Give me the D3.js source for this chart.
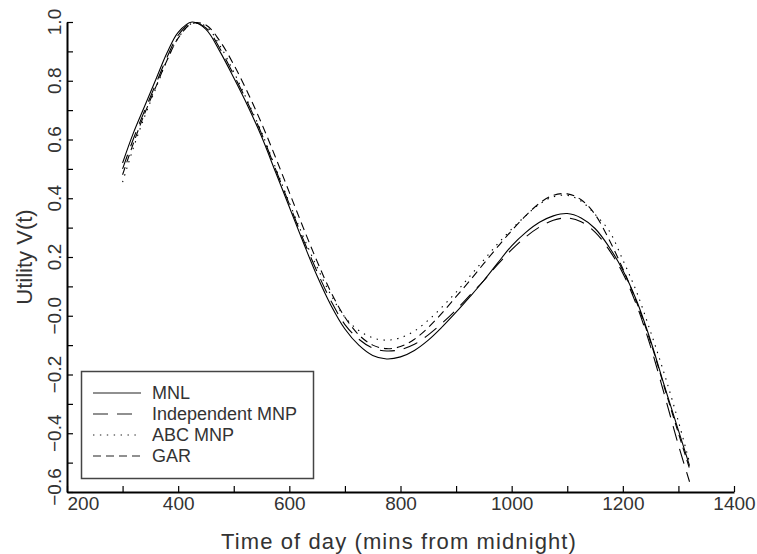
<!DOCTYPE html>
<html>
<head>
<meta charset="utf-8">
<title>Utility V(t)</title>
<script src="https://cdn.jsdelivr.net/npm/d3@7"></script>
<style>
  body { margin: 0; background: #fff; }
  text { font-family: "Liberation Sans", Arial, sans-serif; fill: #333; }
  .axis path, .axis line { stroke: #000; }
  .axis path { stroke-width: 2; }
  .axis line { stroke-width: 1.2; }
</style>
</head>
<body>
<script>
var width = 757, height = 554;

// minutes from midnight
var times = [300, 320, 340, 360, 380, 400, 425, 450, 475, 500, 525, 550, 575, 600,
             625, 650, 675, 700, 725, 750, 775, 800, 825, 850, 875, 900, 925, 950,
             975, 1000, 1025, 1050, 1075, 1100, 1125, 1150, 1175, 1200, 1225, 1250,
             1275, 1300, 1320];

var mnl = [0.52, 0.625, 0.715, 0.805, 0.895, 0.965, 1.0, 0.975, 0.90, 0.81, 0.715, 0.61, 0.49, 0.37,
           0.25, 0.135, 0.035, -0.045, -0.10, -0.135, -0.147, -0.14, -0.118, -0.083, -0.038, 0.012, 0.065, 0.12,
           0.18, 0.238, 0.283, 0.318, 0.34, 0.348, 0.333, 0.297, 0.235, 0.155, 0.05, -0.085,
           -0.24, -0.39, -0.51];

var indepMnp = [0.50, 0.605, 0.70, 0.79, 0.88, 0.955, 0.998, 0.98, 0.91, 0.82, 0.725, 0.62, 0.50, 0.38,
                0.26, 0.15, 0.05, -0.03, -0.08, -0.11, -0.12, -0.115, -0.097, -0.065, -0.025, 0.02, 0.07, 0.12,
                0.175, 0.225, 0.268, 0.302, 0.325, 0.333, 0.32, 0.285, 0.225, 0.145, 0.035, -0.105,
                -0.27, -0.44, -0.565];

var abcMnp = [0.455, 0.575, 0.68, 0.775, 0.87, 0.945, 0.995, 0.985, 0.92, 0.83, 0.73, 0.625, 0.505, 0.385,
              0.27, 0.165, 0.07, -0.005, -0.05, -0.075, -0.083, -0.075, -0.052, -0.015, 0.03, 0.08, 0.135, 0.19,
              0.245, 0.295, 0.34, 0.38, 0.405, 0.41, 0.39, 0.345, 0.29, 0.19, 0.08, -0.055,
              -0.20, -0.36, -0.50];

var gar = [0.48, 0.59, 0.69, 0.78, 0.87, 0.945, 0.995, 0.99, 0.935, 0.855, 0.76, 0.655, 0.54, 0.42,
           0.30, 0.185, 0.08, -0.005, -0.065, -0.10, -0.112, -0.105, -0.08, -0.04, 0.01, 0.065, 0.12, 0.178,
           0.235, 0.29, 0.34, 0.383, 0.41, 0.415, 0.395, 0.345, 0.26, 0.16, 0.045, -0.09,
           -0.245, -0.40, -0.52];

var seriesNames = ["MNL", "Independent MNP", "ABC MNP", "GAR"];
var seriesValues = [mnl, indepMnp, abcMnp, gar];
var dashes = ["none", "15,9", "1.4,5.5", "8,5"];

var xTicks = [200, 300, 400, 500, 600, 700, 800, 900, 1000, 1100, 1200, 1300, 1400];
var xTickLabels = ["200", "", "400", "", "600", "", "800", "", "1000", "", "1200", "", "1400"];
var yTicks = [-0.6, -0.5, -0.4, -0.3, -0.2, -0.1, 0, 0.1, 0.2, 0.3, 0.4, 0.5, 0.6, 0.7, 0.8, 0.9, 1.0];
var yLabelValues = [-0.6, -0.4, -0.2, 0, 0.2, 0.4, 0.6, 0.8, 1.0];
var yLabels = ["\u22120.6", "\u22120.4", "\u22120.2", "\u22120.0", "0.2", "0.4", "0.6", "0.8", "1.0"];

var svg = d3.select("body").append("svg")
    .attr("width", width)
    .attr("height", height);

svg.append("rect").attr("width", width).attr("height", height).attr("fill", "#fff");

var x = d3.scaleLinear().domain([200, 1400]).range([67, 734]);
var y = d3.scaleLinear().domain([-0.6, 1.0]).range([492, 22]);

// x axis, ticks pointing up into the plot
var xAxis = d3.axisBottom(x)
    .tickValues(xTicks)
    .tickSizeInner(-6)
    .tickSizeOuter(0)
    .tickPadding(5)
    .tickFormat(function(d, i) { return xTickLabels[i]; });

var gx = svg.append("g")
    .attr("class", "axis")
    .attr("transform", "translate(0," + y(-0.6) + ")")
    .call(xAxis);
gx.selectAll("text")
    .attr("font-size", 19)
    .attr("font-family", null)
    .attr("fill", "#333")
    .attr("text-anchor", function(d, i) { return i === 0 ? "start" : "middle"; });

// y axis, ticks pointing right
var yAxis = d3.axisLeft(y)
    .tickValues(yTicks)
    .tickSizeInner(-6)
    .tickSizeOuter(0)
    .tickFormat("");

svg.append("g")
    .attr("class", "axis")
    .attr("transform", "translate(" + x(200) + ",0)")
    .call(yAxis);

svg.append("g").selectAll("text")
    .data(yLabelValues)
    .enter().append("text")
    .attr("transform", function(d, i) {
        var shift = i === 0 ? -5 : 0;   // bottom label sits a bit above its tick
        return "translate(61," + (y(d) + shift) + ") rotate(-90)";
    })
    .attr("text-anchor", "middle")
    .attr("font-size", 19)
    .text(function(d, i) { return yLabels[i]; });

// axis titles
svg.append("text")
    .attr("x", 399)
    .attr("y", 549)
    .attr("text-anchor", "middle")
    .attr("font-size", 22)
    .attr("letter-spacing", 1.1)
    .text("Time of day (mins from midnight)");

svg.append("text")
    .attr("transform", "translate(32,257) rotate(-90)")
    .attr("text-anchor", "middle")
    .attr("font-size", 22)
    .text("Utility V(t)");

// curves
var line = d3.line()
    .x(function(d) { return x(d[0]); })
    .y(function(d) { return y(d[1]); })
    .curve(d3.curveCatmullRom.alpha(0.5));

seriesValues.forEach(function(vals, k) {
    svg.append("path")
        .datum(times.map(function(t, i) { return [t, vals[i]]; }))
        .attr("fill", "none")
        .attr("stroke", "#000")
        .attr("stroke-width", 1.1)
        .attr("stroke-dasharray", dashes[k])
        .attr("d", line);
});

// legend
var legend = svg.append("g");
legend.append("rect")
    .attr("x", 81.5).attr("y", 371.5)
    .attr("width", 232).attr("height", 107)
    .attr("fill", "#fff")
    .attr("stroke", "#444")
    .attr("stroke-width", 1.5);

var rows = legend.selectAll("g.row")
    .data(seriesNames)
    .enter().append("g")
    .attr("class", "row")
    .attr("transform", function(d, i) { return "translate(0," + (393 + i * 21) + ")"; });

rows.append("line")
    .attr("x1", 93).attr("x2", 141)
    .attr("y1", 0).attr("y2", 0)
    .attr("stroke", "#222")
    .attr("stroke-width", 1.1)
    .attr("stroke-dasharray", function(d, i) { return dashes[i]; });

rows.append("text")
    .attr("x", 152)
    .attr("y", 6)
    .attr("font-size", 18)
    .text(function(d) { return d; });
</script>
</body>
</html>
